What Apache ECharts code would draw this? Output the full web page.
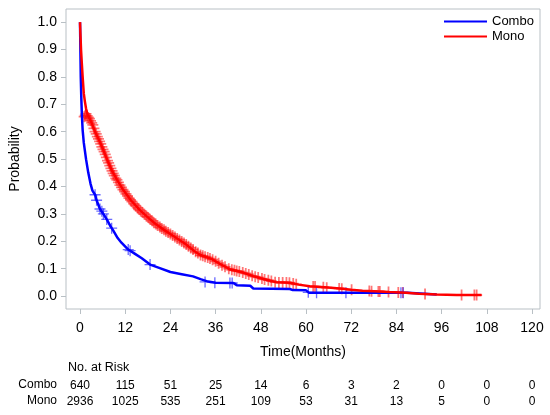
<!DOCTYPE html>
<html>
<head>
<meta charset="utf-8">
<script src="https://cdn.jsdelivr.net/npm/echarts@6/dist/echarts.min.js"></script>
<style>
  html, body { margin: 0; padding: 0; background: #fff; }
  #main { width: 550px; height: 415px; }
</style>
</head>
<body>
<div id="main"></div>
<script>
// axis ticks
var timeTicks = [0, 12, 24, 36, 48, 60, 72, 84, 96, 108, 120];
var probTicks = [0.0, 0.1, 0.2, 0.3, 0.4, 0.5, 0.6, 0.7, 0.8, 0.9, 1.0];

// number at risk
var comboRisk = [640, 115, 51, 25, 14, 6, 3, 2, 0, 0, 0];
var monoRisk = [2936, 1025, 535, 251, 109, 53, 31, 13, 5, 0, 0];

// survival curves [month, probability]
var comboCurve = [
  [0, 1.0], [0.1, 0.9], [0.2, 0.8], [0.35, 0.72], [0.5, 0.66], [0.7, 0.606],
  [1.0, 0.56], [1.3, 0.53], [1.6, 0.5], [2.2, 0.45], [2.8, 0.41], [3.3, 0.385],
  [4.0, 0.37], [4.4, 0.35], [5.3, 0.318], [6.2, 0.3], [7.1, 0.28], [8.0, 0.257],
  [8.8, 0.24], [10, 0.212], [11, 0.195], [12.8, 0.17], [14.5, 0.155], [16.4, 0.138],
  [18.6, 0.115], [21, 0.103], [24, 0.088], [27, 0.08], [30, 0.072], [32, 0.062],
  [34, 0.053], [36, 0.049], [40.7, 0.048], [41.6, 0.04], [45.2, 0.038], [46, 0.028],
  [55.7, 0.026], [56.5, 0.022], [60, 0.021], [60.8, 0.012], [87, 0.012], [87.5, 0.006],
  [94.7, 0.006]
];
var monoCurve = [
  [0, 1.0], [0.1, 0.96], [0.27, 0.9], [0.5, 0.845], [0.7, 0.8], [1.0, 0.74],
  [1.3, 0.71], [1.6, 0.685], [2.0, 0.662], [3.0, 0.635], [4.0, 0.6], [5.2, 0.565],
  [6.2, 0.533], [7.3, 0.495], [8.4, 0.46], [9.8, 0.425], [11.5, 0.387], [13.5, 0.35],
  [15.9, 0.314], [17.8, 0.29], [19.9, 0.265], [22.5, 0.24], [25.2, 0.216], [28, 0.19],
  [30.5, 0.163], [32, 0.15], [35, 0.135], [37.5, 0.115], [40, 0.097], [43.5, 0.085],
  [46, 0.073], [48, 0.065], [50, 0.058], [52, 0.051], [55.7, 0.049], [58, 0.042],
  [61, 0.036], [65, 0.032], [69, 0.028], [72, 0.023], [75, 0.02], [78, 0.018],
  [82, 0.015], [86.5, 0.012], [90, 0.009], [94.7, 0.006], [100, 0.004], [106.6, 0.004]
];

// censored observations [month, probability]
var comboCensor = [
  [4.0, 0.37], [4.4, 0.35], [5.3, 0.318], [5.8, 0.31], [6.2, 0.3], [7.1, 0.28],
  [8.4, 0.248], [12.8, 0.17], [13.3, 0.166], [18.6, 0.115], [33.2, 0.052], [35.8, 0.049],
  [39.8, 0.048], [40.4, 0.048], [60.6, 0.014], [62.8, 0.012], [70.6, 0.012], [85.2, 0.012],
  [85.8, 0.012]
];
var monoCensor = [
  [1.1, 0.655], [1.4, 0.66], [1.6, 0.665], [1.9, 0.658], [2.2, 0.652], [2.5, 0.648],
  [2.8, 0.64], [3.1, 0.632], [3.4, 0.625], [3.7, 0.612], [4.0, 0.6], [4.3, 0.592],
  [4.6, 0.582], [4.9, 0.574], [5.2, 0.565], [5.5, 0.556], [5.8, 0.545], [6.1, 0.536],
  [6.4, 0.527], [6.7, 0.517], [7.0, 0.506], [7.3, 0.495], [7.6, 0.486], [7.9, 0.476],
  [8.2, 0.466], [8.5, 0.457], [8.8, 0.448], [9.1, 0.44], [9.5, 0.43], [9.8, 0.424],
  [10.2, 0.415], [10.6, 0.405], [11.0, 0.397], [11.4, 0.389], [11.8, 0.381], [12.2, 0.373],
  [12.6, 0.366], [13.0, 0.358], [13.4, 0.351], [13.8, 0.345], [14.3, 0.337], [14.7, 0.33],
  [15.2, 0.323], [15.6, 0.317], [16.1, 0.311], [16.6, 0.305], [17.1, 0.299], [17.6, 0.292],
  [18.1, 0.287], [18.6, 0.281], [19.1, 0.275], [19.6, 0.268], [20.1, 0.263], [20.6, 0.258],
  [21.2, 0.252], [21.7, 0.247], [22.3, 0.242], [22.8, 0.237], [23.4, 0.232], [24.0, 0.227],
  [24.6, 0.221], [25.2, 0.216], [25.8, 0.21], [26.4, 0.205], [27.0, 0.199], [27.6, 0.194],
  [28.2, 0.188], [28.8, 0.182], [29.4, 0.176], [30.0, 0.17], [30.7, 0.162], [31.3, 0.157],
  [32.0, 0.15], [32.6, 0.147], [33.2, 0.144], [33.9, 0.141], [34.5, 0.137], [35.2, 0.133],
  [36.0, 0.127], [36.8, 0.12], [37.7, 0.113], [38.5, 0.107], [39.5, 0.1], [40.3, 0.096],
  [41.0, 0.094], [41.6, 0.092], [42.3, 0.09], [43.2, 0.086], [44.0, 0.083], [44.8, 0.079],
  [45.7, 0.074], [46.5, 0.071], [47.3, 0.068], [48.3, 0.064], [49.0, 0.061], [50.0, 0.058],
  [50.8, 0.055], [51.8, 0.051], [52.8, 0.05], [53.8, 0.05], [54.8, 0.05], [55.6, 0.049],
  [56.6, 0.046], [57.4, 0.043], [61.9, 0.035], [62.4, 0.035], [64.6, 0.032], [65.5, 0.031],
  [68.8, 0.028], [69.5, 0.027], [72.1, 0.023], [76.8, 0.019], [77.4, 0.018], [79.2, 0.017],
  [79.6, 0.017], [81.9, 0.015], [84.5, 0.013], [85.7, 0.013], [91.6, 0.008], [101.3, 0.004],
  [104.7, 0.004], [105.3, 0.004]
];

var FONT = "'Liberation Sans', Arial, sans-serif";
var GREY = '#b9c0c5';
var PLUS = 'path://M0,4.4H10V5.6H0Z M4.4,0H5.6V10H4.4Z';
var PLUS_BOLD = 'path://M0,4.2H10V5.8H0Z M4.2,0H5.8V10H4.2Z';

var myChart = echarts.init(document.getElementById('main'));

function riskAxis(list, offset) {
  return {
    type: 'value',
    gridIndex: 0,
    position: 'bottom',
    offset: offset,
    min: -3.72, max: 122.12,
    axisLine: { show: false, onZero: false },
    axisTick: { show: false },
    splitLine: { show: false },
    axisLabel: {
      customValues: timeTicks,
      margin: 8,
      color: '#000',
      fontFamily: FONT,
      fontSize: 12,
      formatter: function (v) { return String(list[timeTicks.indexOf(v)]); }
    }
  };
}

var option = {
  animation: false,
  grid: {
    left: 66, right: 10, top: 9, bottom: 106,
    show: true, borderColor: GREY, borderWidth: 1, backgroundColor: '#fff'
  },
  legend: {
    data: ['Combo', 'Mono'],
    orient: 'vertical',
    left: 444, top: 15,
    padding: 0,
    icon: 'rect',
    itemWidth: 43, itemHeight: 2.2, itemGap: 2,
    textStyle: { fontFamily: FONT, fontSize: 13, color: '#000', lineHeight: 13 }
  },
  xAxis: [
    {
      type: 'value',
      min: -3.72, max: 122.12,
      name: 'Time(Months)',
      nameLocation: 'middle',
      nameGap: 36,
      nameTextStyle: { fontFamily: FONT, fontSize: 14, color: '#000' },
      axisLine: { show: false, onZero: false },
      axisTick: { show: true, customValues: timeTicks, length: 5, lineStyle: { color: GREY } },
      splitLine: { show: false },
      axisLabel: {
        customValues: timeTicks, margin: 12,
        fontFamily: FONT, fontSize: 14, color: '#000'
      }
    },
    riskAxis(comboRisk, 63),
    riskAxis(monoRisk, 79)
  ],
  yAxis: {
    type: 'value',
    min: -0.047, max: 1.048,
    name: 'Probability',
    nameLocation: 'middle',
    nameGap: 44,
    nameRotate: 90,
    nameTextStyle: { fontFamily: FONT, fontSize: 14, color: '#000' },
    axisLine: { show: false, onZero: false },
    axisTick: { show: true, customValues: probTicks, length: 5, lineStyle: { color: GREY } },
    splitLine: { show: false },
    axisLabel: {
      customValues: probTicks, margin: 9,
      fontFamily: FONT, fontSize: 14, color: '#000',
      formatter: function (v) { return v.toFixed(1); }
    }
  },
  graphic: [
    { type: 'text', left: 68, top: 361, style: { text: 'No. at Risk', font: '12.5px ' + FONT, fill: '#000' } },
    { type: 'text', right: 493, top: 379, style: { text: 'Combo', font: '12px ' + FONT, fill: '#000' } },
    { type: 'text', right: 493, top: 395, style: { text: 'Mono', font: '12px ' + FONT, fill: '#000' } }
  ],
  series: [
    {
      name: 'Combo', type: 'line', data: comboCurve,
      symbol: 'none', showSymbol: false,
      lineStyle: { color: '#0000ff', width: 2.5 }, itemStyle: { color: '#0000ff' }
    },
    {
      name: 'Mono', type: 'line', data: monoCurve,
      symbol: 'none', showSymbol: false,
      lineStyle: { color: '#ff0000', width: 2.5 }, itemStyle: { color: '#ff0000' }
    },
    {
      name: 'Mono censored', type: 'scatter', data: monoCensor,
      symbol: PLUS_BOLD, symbolSize: 11, silent: true,
      itemStyle: { color: 'rgba(255,0,0,0.68)' }
    },
    {
      name: 'Combo censored', type: 'scatter', data: comboCensor,
      symbol: PLUS, symbolSize: 11, silent: true,
      itemStyle: { color: 'rgba(40,40,255,0.85)' }
    }
  ]
};
myChart.setOption(option);
</script>
</body>
</html>
